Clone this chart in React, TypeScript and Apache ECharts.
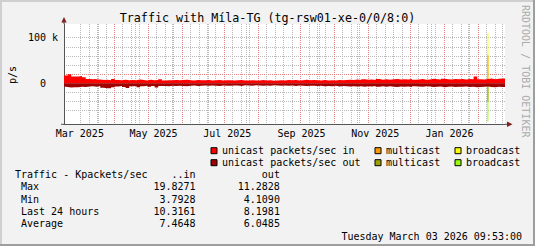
import React, { useEffect, useRef } from 'react';
import * as echarts from 'echarts';

const FONT = 'DejaVu Sans Mono';
const TITLE = 'Traffic with Míla-TG (tg-rsw01-xe-0/0/8:0)';
const Y_NAME = 'p/s';
const WATERMARK = 'RRDTOOL / TOBI OETIKER';
const DATE_TEXT = 'Tuesday March 03 2026 09:53:00';

const startTime = '2025-03-03T09:53:00';
const endTime = '2026-03-03T09:53:00';
const stepDays = 3;

// Kpackets/sec, one value per 3-day step
const unicastIn = [
  12.5, 16.8, 19.8, 15.1, 14.6, 15.9, 13.4, 9.4, 8.7, 9.6,
  8.0, 6.9, 7.6, 6.7, 9.2, 7.1, 6.4, 7.9, 6.8, 7.4,
  6.6, 8.1, 7.0, 6.2, 7.7, 6.5, 6.9, 8.6, 6.3, 6.8,
  6.8, 7.4, 6.5, 7.0, 7.9, 6.6, 6.3, 7.1, 6.7, 6.4,
  6.9, 6.2, 6.6, 7.3, 6.0, 6.5, 6.8, 6.1, 6.4, 7.2,
  5.9, 6.3, 6.7, 5.8, 6.2, 7.0, 6.0, 6.5, 5.7, 6.2,
  6.6, 6.1, 6.9, 6.4, 7.2, 6.3, 6.8, 7.5, 6.6, 7.0,
  6.5, 5.9, 7.0, 6.3, 6.8, 6.1, 7.4, 6.6, 7.1, 7.7, 6.9,
  8.2, 7.3, 8.9, 7.7, 8.4, 7.2, 9.1, 7.9, 8.6, 7.5,
  8.7, 9.4, 8.0, 8.8, 8.2, 9.6, 7.7, 8.5, 9.2, 7.8,
  8.4, 9.7, 9.0, 8.3, 9.9, 8.8, 8.1, 9.5, 8.7, 9.1, 8.5,
  9.3, 8.6, 14.8, 9.0, 8.4, 9.6, 10.2, 8.9, 9.8, 10.3, 10.3,
];
const unicastOut = [
  7.2, 8.1, 9.4, 8.6, 8.9, 7.8, 8.3, 7.1, 6.8, 7.4,
  6.2, 9.8, 10.9, 11.2, 8.7, 6.9, 6.1, 8.2, 10.4, 6.4,
  5.9, 8.9, 6.3, 5.7, 7.6, 6.0, 9.2, 6.2, 5.8, 6.5,
  5.6, 6.1, 5.2, 5.8, 6.4, 5.3, 5.0, 5.9, 5.4, 5.1,
  5.5, 4.9, 5.3, 6.0, 4.7, 5.2, 5.6, 4.8, 5.1, 5.8,
  4.6, 5.0, 5.4, 4.5, 4.9, 5.7, 4.7, 5.2, 4.4, 4.9,
  5.3, 4.8, 5.6, 5.1, 5.9, 5.0, 5.5, 6.2, 5.3, 5.7,
  6.0, 5.4, 6.5, 5.8, 6.3, 5.6, 6.9, 6.1, 6.6, 7.2, 6.4,
  7.0, 6.3, 7.6, 6.6, 7.3, 6.2, 7.8, 6.8, 7.4, 6.5,
  7.5, 8.1, 6.9, 7.6, 7.1, 8.3, 6.7, 7.3, 7.9, 6.8,
  7.2, 8.4, 7.8, 7.1, 8.6, 7.6, 7.0, 8.2, 7.5, 7.9, 7.3,
  8.0, 7.4, 8.5, 8.1, 7.7, 7.2, 8.3, 8.8, 7.6, 8.2, 8.2,
];

// single spike of multicast / broadcast traffic (Kpackets/sec)
const spikeTime = '2026-02-17T06:00:00';
const spikeMulticastIn = 53;
const spikeBroadcastIn = 49;
const spikeMulticastOut = 32.5;
const spikeBroadcastOut = 43.5;

const yLabelValues = [0, 100]; // in k
const yGridValues = [-80, -60, -40, -20, 0, 20, 40, 60, 80, 100, 120]; // in k
const yMajorValues = [0, 100]; // in k
const labelMonths = ['2025-03', '2025-05', '2025-07', '2025-09', '2025-11', '2026-01'];
const monthNames = ['Jan', 'Feb', 'Mar', 'Apr', 'May', 'Jun', 'Jul', 'Aug', 'Sep', 'Oct', 'Nov', 'Dec'];

const statsHeader = ['Traffic - Kpackets/sec', '..in', 'out'];
const statsLabels = ['Max', 'Min', 'Last 24 hours', 'Average'];
const statsIn = ['19.8271', '3.7928', '10.3161', '7.4648'];
const statsOut = ['11.2828', '4.1090', '8.1981', '6.0485'];

const NAMES = {
  uin: 'unicast packets/sec in',
  uout: 'unicast packets/sec out',
  min: 'multicast in',
  mout: 'multicast out',
  bin: 'broadcast in',
  bout: 'broadcast out',
};
const COLORS: Record<string, string> = {
  [NAMES.uin]: '#FF0000',
  [NAMES.uout]: '#A00000',
  [NAMES.min]: '#FF9900',
  [NAMES.mout]: '#A0A000',
  [NAMES.bin]: '#FFFF00',
  [NAMES.bout]: '#99FF00',
};
const MINOR = '#B8B8B8';
const MAJOR = '#E28484';

const W = 535;
const H = 246;
const G = { left: 64, top: 24, width: 441, height: 100.3 };
const Y_MIN = -90000;
const Y_MAX = 130000;

function ts(s: string): number {
  const [d, t = '00:00:00'] = s.split('T');
  const [y, m, dd] = d.split('-').map(Number);
  const [h, mi, se] = t.split(':').map(Number);
  return new Date(y, m - 1, dd, h, mi, se || 0).getTime();
}

const DAY = 86400000;

export default function App() {
  const ref = useRef<HTMLDivElement>(null);

  useEffect(() => {
    document.body.style.margin = '0';
    if (!ref.current) return;
    const chart = echarts.init(ref.current, null, { renderer: 'svg' });

    const t0 = ts(startTime);
    const t1 = ts(endTime);
    const inData = unicastIn.map((v, i) => [t0 + i * stepDays * DAY, v * 1000]);
    const outData = unicastOut.map((v, i) => [t0 + i * stepDays * DAY, -v * 1000]);

    const spT = ts(spikeTime);
    const spIdx = Math.floor((spT - t0) / (stepDays * DAY));
    const baseIn = unicastIn[spIdx];
    const baseOut = unicastOut[spIdx];

    // vertical grid: Mondays (minor) and month starts (major)
    const vMap = new Map<number, boolean>();
    const d = new Date(t0);
    d.setHours(0, 0, 0, 0);
    while (d.getDay() !== 1) d.setDate(d.getDate() + 1);
    while (d.getTime() <= t1) {
      vMap.set(d.getTime(), false);
      d.setDate(d.getDate() + 7);
    }
    const m = new Date(new Date(t0).getFullYear(), new Date(t0).getMonth() + 1, 1);
    while (m.getTime() <= t1) {
      vMap.set(m.getTime(), true);
      m.setMonth(m.getMonth() + 1);
    }
    const vValues = Array.from(vMap.keys()).sort((a, b) => a - b);
    const vColors = vValues.map((v) => (vMap.get(v) ? MAJOR : MINOR));
    const hValues = yGridValues.map((v) => v * 1000);
    const hColors = yGridValues.map((v) => (yMajorValues.includes(v) ? MAJOR : MINOR));

    const labelValues = labelMonths.map((s) => {
      const [y, mo] = s.split('-').map(Number);
      const a = new Date(y, mo - 1, 1).getTime();
      const b = new Date(y, mo, 1).getTime();
      return (a + b) / 2;
    });

    const txt = { fontFamily: FONT, fontSize: 10, fill: '#000' };
    const graphic: any[] = [
      {
        type: 'rect', z: -100, silent: true,
        shape: { x: G.left, y: G.top, width: G.width, height: G.height },
        style: { fill: '#FFFFFF' },
      },
      { type: 'rect', shape: { x: 0, y: 0, width: W, height: 2 }, style: { fill: '#CFCFCF' }, silent: true },
      { type: 'rect', shape: { x: 0, y: 0, width: 2, height: H }, style: { fill: '#CFCFCF' }, silent: true },
      { type: 'rect', shape: { x: 0, y: H - 2, width: W, height: 2 }, style: { fill: '#9E9E9E' }, silent: true },
      { type: 'rect', shape: { x: W - 2, y: 0, width: 2, height: H }, style: { fill: '#9E9E9E' }, silent: true },
      {
        type: 'text', x: W / 2, y: 17.6,
        style: { text: TITLE, fontFamily: FONT, fontSize: 11.7, fill: '#000', align: 'center', verticalAlign: 'middle' },
      },
      {
        type: 'text', x: 12.5, y: 75, rotation: Math.PI / 2,
        style: { ...txt, text: Y_NAME, align: 'center', verticalAlign: 'middle' },
      },
      {
        type: 'text', x: 525.5, y: 5, rotation: -Math.PI / 2,
        style: { ...txt, fill: '#ABABAB', text: WATERMARK, align: 'left', verticalAlign: 'middle' },
      },
      {
        type: 'line', shape: { x1: G.left + G.width, y1: G.top + G.height, x2: G.left + G.width + 3, y2: G.top + G.height },
        style: { stroke: '#555', lineWidth: 1 },
      },
      {
        type: 'line', shape: { x1: G.left - 3, y1: G.top + G.height, x2: G.left, y2: G.top + G.height },
        style: { stroke: '#555', lineWidth: 1 },
      },
      {
        type: 'line', shape: { x1: G.left, y1: G.top - 3, x2: G.left, y2: G.top },
        style: { stroke: '#555', lineWidth: 1 },
      },
      {
        type: 'polygon',
        shape: { points: [[G.left + G.width + 2, G.top + G.height - 2.7], [G.left + G.width + 7.5, G.top + G.height], [G.left + G.width + 2, G.top + G.height + 2.7]] },
        style: { fill: '#802020' },
      },
      {
        type: 'polygon',
        shape: { points: [[G.left - 2.7, G.top - 1.5], [G.left, G.top - 7], [G.left + 2.7, G.top - 1.5]] },
        style: { fill: '#802020' },
      },
    ];

    const rowY0 = 174.6;
    const rowStep = 12.3;
    const colIn = 195.6;
    const colOut = 279.9;
    graphic.push({ type: 'text', x: 15, y: rowY0, style: { ...txt, text: statsHeader[0], verticalAlign: 'middle' } });
    graphic.push({ type: 'text', x: colIn, y: rowY0, style: { ...txt, text: statsHeader[1], align: 'right', verticalAlign: 'middle' } });
    graphic.push({ type: 'text', x: colOut, y: rowY0, style: { ...txt, text: statsHeader[2], align: 'right', verticalAlign: 'middle' } });
    statsLabels.forEach((lab, k) => {
      const y = rowY0 + rowStep * (k + 1);
      graphic.push({ type: 'text', x: 21, y, style: { ...txt, text: lab, verticalAlign: 'middle' } });
      graphic.push({ type: 'text', x: colIn, y, style: { ...txt, text: statsIn[k], align: 'right', verticalAlign: 'middle' } });
      graphic.push({ type: 'text', x: colOut, y, style: { ...txt, text: statsOut[k], align: 'right', verticalAlign: 'middle' } });
    });
    graphic.push({ type: 'text', x: 522, y: 236, style: { ...txt, text: DATE_TEXT, align: 'right', verticalAlign: 'middle' } });

    const legendBase = {
      orient: 'vertical',
      top: 144.7,
      padding: 0,
      itemGap: 0,
      itemWidth: 6,
      itemHeight: 6,
      icon: 'rect',
      selectedMode: false,
      itemStyle: { borderColor: '#000', borderWidth: 1 },
      textStyle: { fontFamily: FONT, fontSize: 10, color: '#000', lineHeight: 12 },
      formatter: (n: string) => (n.startsWith('unicast') ? n : n.replace(/ (in|out)$/, '')),
    };

    const barBase = { type: 'bar', barWidth: 1, barGap: '-100%', silent: true };

    chart.setOption({
      animation: false,
      backgroundColor: '#F2F2F2',
      textStyle: { fontFamily: FONT },
      grid: { ...G, show: false, containLabel: false },
      legend: [
        { ...legendBase, left: 210.5, data: [NAMES.uin, NAMES.uout] },
        { ...legendBase, left: 374.5, data: [NAMES.min, NAMES.mout] },
        { ...legendBase, left: 454.5, data: [NAMES.bin, NAMES.bout] },
      ],
      xAxis: {
        type: 'value',
        min: t0,
        max: t1,
        axisLine: { show: true, onZero: false, lineStyle: { color: '#555', width: 1 } },
        axisTick: { show: false, customValues: vValues },
        splitLine: { show: true, showMinLine: false, showMaxLine: false, lineStyle: { color: vColors, width: 1, type: 'dotted' } },
        axisLabel: {
          customValues: labelValues,
          formatter: (v: number) => {
            const dt = new Date(v);
            return monthNames[dt.getMonth()] + ' ' + dt.getFullYear();
          },
          fontFamily: FONT,
          fontSize: 10,
          color: '#000',
          margin: 4,
          showMinLabel: true,
          showMaxLabel: true,
        },
      },
      yAxis: {
        type: 'value',
        min: Y_MIN,
        max: Y_MAX,
        axisLine: { show: true, onZero: false, lineStyle: { color: '#555', width: 1 } },
        axisTick: { show: false, customValues: hValues },
        splitLine: { show: true, showMinLine: false, showMaxLine: false, lineStyle: { color: hColors, width: 1, type: 'dotted' } },
        axisLabel: {
          customValues: yLabelValues.map((v) => v * 1000),
          formatter: (v: number) => (v === 0 ? '{z|0}' : v / 1000 + ' k'),
          rich: { z: { fontFamily: FONT, fontSize: 10, color: '#000', padding: [0, 12, 0, 0] } },
          fontFamily: FONT,
          fontSize: 10,
          color: '#000',
          margin: 6,
        },
      },
      graphic,
      series: [
        { ...barBase, name: NAMES.bin, itemStyle: { color: COLORS[NAMES.bin] }, data: [[spT, (baseIn + spikeMulticastIn + spikeBroadcastIn) * 1000]] },
        { ...barBase, name: NAMES.min, itemStyle: { color: COLORS[NAMES.min] }, data: [[spT, (baseIn + spikeMulticastIn) * 1000]] },
        { ...barBase, name: NAMES.bout, itemStyle: { color: COLORS[NAMES.bout] }, data: [[spT, -(baseOut + spikeMulticastOut + spikeBroadcastOut) * 1000]] },
        { ...barBase, name: NAMES.mout, itemStyle: { color: COLORS[NAMES.mout] }, data: [[spT, -(baseOut + spikeMulticastOut) * 1000]] },
        {
          type: 'line', name: NAMES.uin, step: 'start', symbol: 'none', showSymbol: false, silent: true,
          itemStyle: { color: COLORS[NAMES.uin] }, lineStyle: { width: 0, color: COLORS[NAMES.uin] },
          areaStyle: { color: COLORS[NAMES.uin], opacity: 1 }, data: inData,
        },
        {
          type: 'line', name: NAMES.uout, step: 'start', symbol: 'none', showSymbol: false, silent: true,
          itemStyle: { color: COLORS[NAMES.uout] }, lineStyle: { width: 0, color: COLORS[NAMES.uout] },
          areaStyle: { color: COLORS[NAMES.uout], opacity: 1 }, data: outData,
        },
      ],
    } as any);

    return () => chart.dispose();
  }, []);

  return <div ref={ref} style={{ position: 'absolute', left: 0, top: 0, width: W, height: H }} />;
}
